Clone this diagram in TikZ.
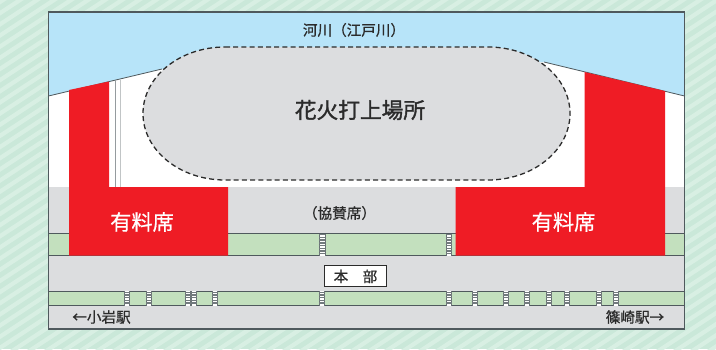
\documentclass[tikz,border=0pt]{standalone}
\usepackage{fontspec}
\setmainfont{Noto Sans CJK JP}
\newfontfamily\cjkbold[FakeBold=1.5]{Noto Sans CJK JP}
\newfontfamily\cjkmed[FakeBold=0.7]{Noto Sans CJK JP}
\definecolor{bgA}{HTML}{CAE8D9}
\definecolor{bgB}{HTML}{D8EFE3}
\definecolor{river}{HTML}{B7E4F9}
\definecolor{ground}{HTML}{DCDDDF}
\definecolor{lawn}{HTML}{C3E0BE}
\definecolor{seat}{HTML}{EF1C25}
\definecolor{edge}{HTML}{4F595D}
\definecolor{ink}{HTML}{2B2B2B}
\tikzset{
  x=1pt,y=-1pt,
  bandline/.style={draw=edge,line width=0.8pt},
  lbl/.style={text=ink,inner sep=0pt,font=\fontsize{14.6}{15}\cjkmed},
  seatlbl/.style={text=white,inner sep=0pt,font=\fontsize{21.2}{22}\cjkmed},
  rung/.style={draw=edge!80,line width=1.4pt}
}
\newcommand{\ladder}[3]{%
  \fill[white] (#1-3,#2) rectangle (#1+3,#3);
  \draw[edge!85,line width=0.8pt] (#1-2.8,#2) -- (#1-2.8,#3) (#1+2.8,#2) -- (#1+2.8,#3);
  \pgfmathtruncatemacro{\nrungs}{floor((#3-#2)/2.7)-1}
  \foreach \n in {0,...,\nrungs}{\draw[rung] (#1-3,#2+1.2+\n*2.7) -- (#1+3,#2+1.2+\n*2.7);}
}
\begin{document}
\begin{tikzpicture}
\useasboundingbox (0,0) rectangle (716,349);
\fill[bgA] (0,0) rectangle (716,349);
\begin{scope}
\clip (0,0) rectangle (716,349);
\foreach \i in {-40,...,45}{
  \draw[bgB,line width=4.2pt] (\i*17,359) -- (\i*17+640,-61);
}
\end{scope}
% frame fill
\fill[white] (48.5,12) rectangle (684.5,329);
\fill[ground] (48.5,187) rectangle (684.5,329);
\fill[river] (48.5,12) -- (684.5,12) -- (684.5,96) -- (544,62) -- (162,69) -- (48.5,96) -- cycle;
\draw[edge,line width=0.8pt] (48.5,96) -- (162,69);
\draw[edge,line width=0.8pt] (544,62) -- (684.5,96);
% lawn bands
\fill[lawn] (48.5,233.5) rectangle (684.5,255.5);
\fill[lawn] (48.5,291) rectangle (684.5,305.5);
\draw[bandline] (48.5,233.5) -- (684.5,233.5) (48.5,255.5) -- (684.5,255.5);
\draw[bandline] (48.5,291) -- (684.5,291) (48.5,305.5) -- (684.5,305.5);
% seats
\fill[seat] (69,90) -- (109,81.5) -- (109,187) -- (228,187) -- (228,255.5) -- (69,255.5) -- cycle;
\fill[seat] (584.5,72) -- (665,91) -- (665,255.5) -- (455.5,255.5) -- (455.5,187) -- (584.5,187) -- cycle;
% walkway lines
\draw[edge!60,line width=0.9pt] (115.5,80) -- (115.5,187);
\draw[edge!35,line width=0.8pt] (120.5,79) -- (120.5,187);
% ladders
\ladder{322.3}{233.5}{255.5}
\ladder{449}{233.5}{255.5}
\foreach \lx in {127,149,188,194,215,322,449,475,506,527,549,567,599,616}{\ladder{\lx}{291}{305.5}}
% launch area
\path[fill=ground,draw=ink,line width=1.3pt,dash pattern=on 5pt off 3.2pt]
 (225,47) -- (488,47) arc[start angle=-90,end angle=90,x radius=82,y radius=66.5]
 -- (225,180) arc[start angle=90,end angle=270,x radius=82,y radius=66.5] -- cycle;
% frame
\draw[edge,line width=1.1pt] (48.5,12) rectangle (684.5,329);
% labels
\node[lbl] (rivername) at (354,30) {河川（江戸川）};
\node[lbl,font=\fontsize{21.7}{22}\cjkbold] (launchname) at (360,110) {花火打上場所};
\node[seatlbl] (seatL) at (142,222) {有料席};
\node[seatlbl] (seatR) at (563.5,222) {有料席};
\node[lbl] (sponsor) at (339.5,213) {（協賛席）};
\node[draw=ink,fill=white,line width=0.9pt,minimum width=62pt,minimum height=21pt,inner sep=0pt,text=ink,font=\fontsize{14.5}{15}\cjkmed] (hq) at (355.5,276.4) {本\hspace{1em}部};
\node[lbl] (koiwa) at (101.5,317) {←小岩駅};
\node[lbl] (shinozaki) at (635,317) {篠崎駅→};
\end{tikzpicture}
\end{document}
